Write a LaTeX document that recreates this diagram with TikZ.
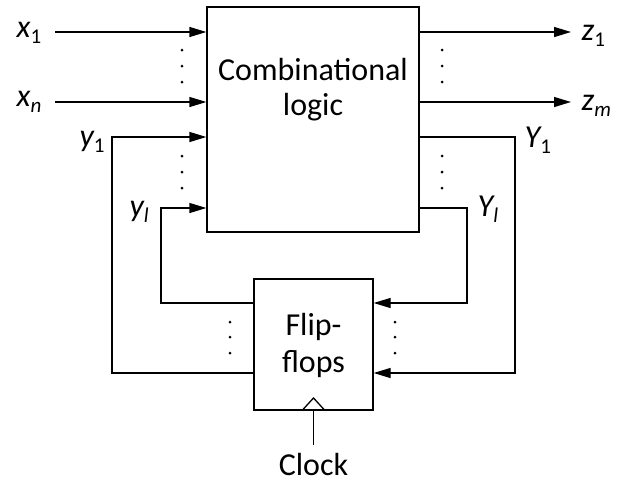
\documentclass[tikz,border=0pt]{standalone}
\usepackage{fontspec}
\setmainfont{Carlito}
\usetikzlibrary{arrows.meta}
\newcommand\subs[1]{\raisebox{-6pt}{\fontsize{21}{21}\selectfont #1}}
\begin{document}
\begin{tikzpicture}[x=1pt,y=-1pt,line width=1.3pt,
  blk/.style={draw,inner sep=0pt},
  sig/.style={-{Triangle[length=17pt,width=10pt]}},
  lbl/.style={font=\fontsize{32}{34}\selectfont\itshape,inner sep=0pt,anchor=base west},
  txt/.style={font=\fontsize{32}{35}\selectfont,inner sep=0pt,anchor=base}]
\useasboundingbox (0,0) rectangle (618,483);
% blocks
\node[blk,minimum width=212pt,minimum height=225pt] (cl) at (313,119.5) {};
\node[txt] (cl1) at (313,80) {Combinational};
\node[txt] (cl2) at (313,115) {logic};
\node[blk,minimum width=119pt,minimum height=131pt] (ff) at (313.5,344.5) {};
\node[txt] (ff1) at (313.5,335) {Flip-};
\node[txt] (ff2) at (313.5,372) {flops};
\node[txt] (clk) at (313.5,475) {Clock};
% labels
\node[lbl] (x1) at (16,37) {x\subs{\upshape 1}};
\node[lbl] (xn) at (16,106) {x\subs{n}};
\node[lbl] (y1) at (79,146) {y\subs{\upshape 1}};
\node[lbl] (yl) at (129,216) {y\subs{l}};
\node[lbl] (z1) at (581,40) {z\subs{\upshape 1}};
\node[lbl] (zm) at (581,110) {z\subs{m}};
\node[lbl] (Y1) at (524,147) {Y\subs{\upshape 1}};
\node[lbl] (Yl) at (477,216) {Y\subs{l}};
% inputs
\coordinate (a1) at (55,32);
\coordinate (an) at (55,102);
\draw[sig] (a1) -- (cl.west |- a1);
\draw[sig] (an) -- (cl.west |- an);
% outputs
\coordinate (e1) at (571,32);
\coordinate (em) at (571,102);
\draw[sig] (cl.east |- e1) -- (e1);
\draw[sig] (cl.east |- em) -- (em);
% feedback left
\coordinate (p1) at (112,373); \coordinate (q1) at (112,137);
\coordinate (pl) at (161,303); \coordinate (ql) at (161,208);
\draw[sig] (ff.west |- p1) -- (p1) -- (q1) -- (cl.west |- q1);
\draw[sig] (ff.west |- pl) -- (pl) -- (ql) -- (cl.west |- ql);
% feedback right
\coordinate (P1) at (515,373); \coordinate (Q1) at (515,137);
\coordinate (Pl) at (467,303); \coordinate (Ql) at (467,208);
\draw[sig] (cl.east |- Q1) -- (Q1) -- (P1) -- (ff.east |- P1);
\draw[sig] (cl.east |- Ql) -- (Ql) -- (Pl) -- (ff.east |- Pl);
% clock
\draw (302.5,410) -- (313.5,398) -- (324.5,410);
\coordinate (ck) at (313.5,445);
\draw (ck) -- (ff.south);
% dots
\foreach \x/\y in {182/50,182/66,182/82,182/156,182/172,182/188,
                   442/50,442/66,442/82,442/156,442/172,442/188,
                   230/322,230/337,230/353,395/322,395/337,395/353}
  \fill (\x,\y) circle (1.5pt);
\end{tikzpicture}
\end{document}
